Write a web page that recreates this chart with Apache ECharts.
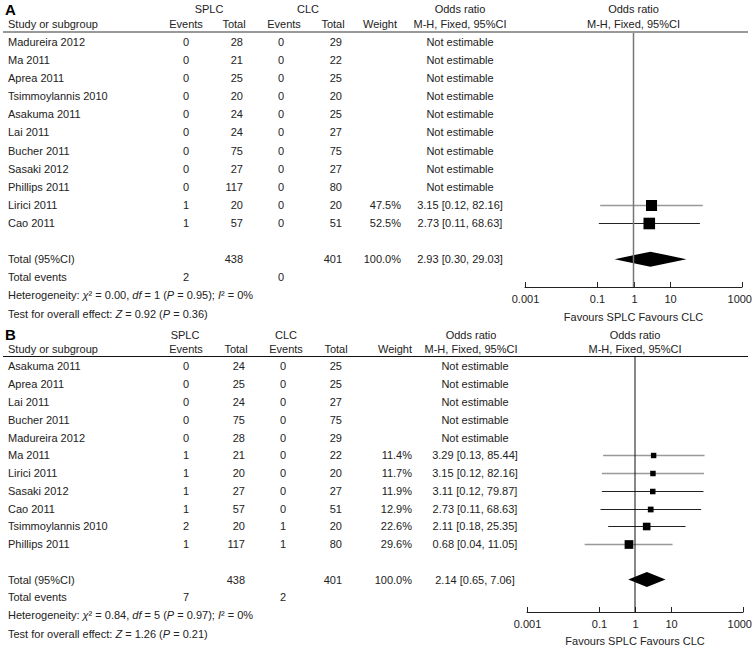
<!DOCTYPE html>
<html><head><meta charset="utf-8">
<script src="https://cdn.jsdelivr.net/npm/echarts@6/dist/echarts.min.js"></script>
<style>html,body{margin:0;padding:0;background:#fff}#c{width:753px;height:650px}</style>
</head><body><div id="c"></div>
<script>
// ---------------- DATA ----------------
// Panel A
const studiesA = ['Madureira 2012','Ma 2011','Aprea 2011','Tsimmoylannis 2010','Asakuma 2011','Lai 2011','Bucher 2011','Sasaki 2012','Phillips 2011','Lirici 2011','Cao 2011'];
const splcEventsA = [0,0,0,0,0,0,0,0,0,1,1];
const splcTotalA  = [28,21,25,20,24,24,75,27,117,20,57];
const clcEventsA  = [0,0,0,0,0,0,0,0,0,0,0];
const clcTotalA   = [29,22,25,20,25,27,75,27,80,20,51];
const weightA     = [null,null,null,null,null,null,null,null,null,47.5,52.5];
const orA         = [null,null,null,null,null,null,null,null,null,3.15,2.73];
const loA         = [null,null,null,null,null,null,null,null,null,0.12,0.11];
const hiA         = [null,null,null,null,null,null,null,null,null,82.16,68.63];
const totalParticipantsA = [438, 401];
const totalEventsA = [2, 0];
const pooledA = [2.93, 0.30, 29.03];
const pooledWeightA = 100.0;
const heterogeneityA = ['0.00', '1', '0.95', '0%'];
const overallA = ['0.92', '0.36'];

// Panel B
const studiesB = ['Asakuma 2011','Aprea 2011','Lai 2011','Bucher 2011','Madureira 2012','Ma 2011','Lirici 2011','Sasaki 2012','Cao 2011','Tsimmoylannis 2010','Phillips 2011'];
const splcEventsB = [0,0,0,0,0,1,1,1,1,2,1];
const splcTotalB  = [24,25,24,75,28,21,20,27,57,20,117];
const clcEventsB  = [0,0,0,0,0,0,0,0,0,1,1];
const clcTotalB   = [25,25,27,75,29,22,20,27,51,20,80];
const weightB     = [null,null,null,null,null,11.4,11.7,11.9,12.9,22.6,29.6];
const orB         = [null,null,null,null,null,3.29,3.15,3.11,2.73,2.11,0.68];
const loB         = [null,null,null,null,null,0.13,0.12,0.12,0.11,0.18,0.04];
const hiB         = [null,null,null,null,null,85.44,82.16,79.87,68.63,25.35,11.05];
const totalParticipantsB = [438, 401];
const totalEventsB = [7, 2];
const pooledB = [2.14, 0.65, 7.06];
const pooledWeightB = 100.0;
const heterogeneityB = ['0.84', '5', '0.97', '0%'];
const overallB = ['1.26', '0.21'];

// Axis
const tickValues = [0.001, 0.1, 1, 10, 1000];
const tickLabels = ['0.001', '0.1', '1', '10', '1000'];
const axisTitle = 'Favours SPLC Favours CLC';
const nullEffect = 1;

// ---------------- STYLE / LAYOUT ----------------
const FONT = 'Liberation Sans';
const FS = 11;
const TXT = '#222';
const fontStr = FS + 'px "' + FONT + '"';
const W = 753;

const panels = [
  {
    label: 'A', studies: studiesA, e1: splcEventsA, t1: splcTotalA, e2: clcEventsA, t2: clcTotalA,
    w: weightA, or: orA, lo: loA, hi: hiA, tp: totalParticipantsA, te: totalEventsA,
    pooled: pooledA, pw: pooledWeightA, het: heterogeneityA, ov: overallA,
    grid: {left: 525, top: 33, width: 217, height: 254}, yMin: -0.497, yMax: 13.54,
    col: {study: 8, ev1: 186, tot1: 243, ev2: 281, tot2: 342, wt: 401, or: 460,
          hSplc: 209, hClc: 308, hTot1: 234, hTot2: 333, hWt: 380, hOr: 460},
    hdrLine: {stroke: '#999', lineWidth: 2}, vLine: {color: '#777', width: 1.5},
    grayCI: [9], nameGap: 24
  },
  {
    label: 'B', studies: studiesB, e1: splcEventsB, t1: splcTotalB, e2: clcEventsB, t2: clcTotalB,
    w: weightB, or: orB, lo: loB, hi: hiB, tp: totalParticipantsB, te: totalEventsB,
    pooled: pooledB, pw: pooledWeightB, het: heterogeneityB, ov: overallB,
    grid: {left: 527, top: 357, width: 216, height: 255}, yMin: -0.535, yMax: 13.83,
    col: {study: 8, ev1: 186, tot1: 245, ev2: 283, tot2: 342, wt: 412, or: 475,
          hSplc: 185, hClc: 286, hTot1: 236, hTot2: 336, hWt: 395, hOr: 471},
    hdrLine: {stroke: '#111', lineWidth: 1}, vLine: {color: '#111', width: 1},
    grayCI: [5, 6, 10], nameGap: 23
  }
];

const chart = echarts.init(document.getElementById('c'), null, {renderer: 'svg'});

const grids = [], xAxes = [], yAxes = [], series = [];
panels.forEach((p, k) => {
  grids.push(Object.assign({containLabel: false}, p.grid));
  xAxes.push({
    type: 'log', logBase: 10, gridIndex: k, min: 0.001, max: 1000, position: 'bottom',
    axisLine: {show: true, onZero: false, lineStyle: {color: '#222', width: 1}},
    axisTick: {show: false}, axisLabel: {show: false}, splitLine: {show: false},
    minorTick: {show: false}, minorSplitLine: {show: false},
    name: axisTitle, nameLocation: 'middle', nameGap: p.nameGap,
    nameTextStyle: {fontFamily: FONT, fontSize: FS, color: TXT, verticalAlign: 'top'}
  });
  yAxes.push({type: 'value', gridIndex: k, inverse: true, min: p.yMin, max: p.yMax, show: false});

  // null-effect vertical line
  series.push({
    type: 'line', xAxisIndex: k, yAxisIndex: k, data: [[nullEffect, p.yMin], [nullEffect, p.yMax]],
    symbol: 'none', lineStyle: {color: p.vLine.color, width: p.vLine.width}, silent: true, animation: false
  });

  // studies: CI line + square
  const studyData = [];
  p.or.forEach((v, i) => { if (v != null) studyData.push([v, i, p.lo[i], p.hi[i], p.w[i]]); });
  series.push({
    type: 'custom', xAxisIndex: k, yAxisIndex: k, data: studyData, animation: false, silent: true,
    encode: {x: 0, y: 1},
    renderItem: (params, api) => {
      const i = api.value(1);
      const c = api.coord([api.value(0), i]);
      const a = api.coord([api.value(2), i]);
      const b = api.coord([api.value(3), i]);
      const s = 1.6 * Math.sqrt(api.value(4));
      const y = Math.round(c[1]) + 0.5;
      const gray = p.grayCI.indexOf(i) >= 0;
      return {type: 'group', children: [
        {type: 'line', shape: {x1: a[0], y1: y, x2: b[0], y2: y},
         style: {stroke: gray ? '#999' : '#222', lineWidth: gray ? 1.5 : 1}},
        {type: 'rect', shape: {x: c[0] - s / 2, y: y - s / 2, width: s, height: s}, style: {fill: '#000'}}
      ]};
    }
  });

  // pooled diamond
  const totalRow = p.studies.length + 1;
  series.push({
    type: 'custom', xAxisIndex: k, yAxisIndex: k, animation: false, silent: true,
    data: [[p.pooled[0], totalRow, p.pooled[1], p.pooled[2]]], encode: {x: 0, y: 1},
    renderItem: (params, api) => {
      const r = api.value(1);
      const c = api.coord([api.value(0), r]);
      const a = api.coord([api.value(2), r]);
      const b = api.coord([api.value(3), r]);
      const h = 7.5;
      return {type: 'polygon', shape: {points: [[a[0], c[1]], [c[0], c[1] - h], [b[0], c[1]], [c[0], c[1] + h]]},
              style: {fill: '#000'}};
    }
  });

  // axis ticks + labels
  series.push({
    type: 'custom', xAxisIndex: k, yAxisIndex: k, animation: false, silent: true,
    data: tickValues.map(v => [v, p.yMax]), encode: {x: 0, y: 1}, clip: false,
    renderItem: (params, api) => {
      const q = api.coord([api.value(0), api.value(1)]);
      const x = Math.round(q[0]) + 0.5;
      const label = tickLabels[params.dataIndex];
      const half = echarts.format.getTextRect ? echarts.format.getTextRect(label, fontStr).width / 2 : 12;
      const overflow = x + half > W - 1;
      return {type: 'group', children: [
        {type: 'line', shape: {x1: x, y1: q[1] - 5, x2: x, y2: q[1]}, style: {stroke: '#222', lineWidth: 1}},
        {type: 'text', x: overflow ? W - 1 : x, y: q[1] + 6, style: {text: label, font: fontStr, fill: TXT,
          align: overflow ? 'right' : 'center', verticalAlign: 'top'}}
      ]};
    }
  });
});

chart.setOption({animation: false, grid: grids, xAxis: xAxes, yAxis: yAxes, series: series});

// ---------------- TABLE TEXT ----------------
const graphics = [];
function txt(x, y, text, align, extra) {
  graphics.push({type: 'text', x: x, y: y, silent: true,
    style: Object.assign({text: String(text), font: fontStr, fill: TXT, align: align || 'left', verticalAlign: 'middle'}, extra || {})});
}
function rich(x, y, parts) {
  let s = '';
  parts.forEach(pt => { s += '{' + (pt[1] ? 'i' : 'n') + '|' + pt[0] + '}'; });
  graphics.push({type: 'text', x: x, y: y, silent: true,
    style: {text: s, verticalAlign: 'middle', align: 'left',
      rich: {n: {fontFamily: FONT, fontSize: FS, fill: TXT, color: TXT},
             i: {fontFamily: FONT, fontSize: FS, fontStyle: 'italic', fill: TXT, color: TXT}}}});
}

panels.forEach((p, k) => {
  const Y = i => chart.convertToPixel({yAxisIndex: k}, i);
  const c = p.col;
  const plotC = p.grid.left + p.grid.width / 2;
  // headers
  txt(5, Y(-1.8), p.label, 'left', {font: 'bold 15px "Liberation Sans"', fill: '#000'});
  txt(c.hSplc, Y(-1.8), 'SPLC', 'center');
  txt(c.hClc, Y(-1.8), 'CLC', 'center');
  txt(c.hOr, Y(-1.8), 'Odds ratio', 'center');
  txt(plotC, Y(-1.8), 'Odds ratio', 'center');
  txt(c.study, Y(-1), 'Study or subgroup');
  txt(c.ev1, Y(-1), 'Events', 'center');
  txt(c.hTot1, Y(-1), 'Total', 'center');
  txt(c.ev2 + 3, Y(-1), 'Events', 'center');
  txt(c.hTot2, Y(-1), 'Total', 'center');
  txt(c.hWt, Y(-1), 'Weight', 'center');
  txt(c.hOr, Y(-1), 'M-H, Fixed, 95%CI', 'center');
  txt(plotC, Y(-1), 'M-H, Fixed, 95%CI', 'center');
  const ly = Math.round(Y(p.yMin)) - (p.hdrLine.lineWidth === 2 ? 1 : 0.5);
  graphics.push({type: 'line', silent: true, shape: {x1: 3, y1: ly, x2: 748, y2: ly}, style: p.hdrLine});
  // study rows
  p.studies.forEach((s, i) => {
    const y = Y(i);
    txt(c.study, y, s);
    txt(c.ev1, y, p.e1[i], 'center');
    txt(c.tot1, y, p.t1[i], 'right');
    txt(c.ev2, y, p.e2[i], 'center');
    txt(c.tot2, y, p.t2[i], 'right');
    if (p.or[i] == null) {
      txt(c.or, y, 'Not estimable', 'center');
    } else {
      txt(c.wt, y, p.w[i].toFixed(1) + '%', 'right');
      txt(c.or, y, p.or[i].toFixed(2) + ' [' + p.lo[i].toFixed(2) + ', ' + p.hi[i].toFixed(2) + ']', 'center');
    }
  });
  const n = p.studies.length;
  const yt = Y(n + 1);
  txt(c.study, yt, 'Total (95%CI)');
  txt(c.tot1, yt, p.tp[0], 'right');
  txt(c.tot2, yt, p.tp[1], 'right');
  txt(c.wt, yt, p.pw.toFixed(1) + '%', 'right');
  txt(c.or, yt, p.pooled[0].toFixed(2) + ' [' + p.pooled[1].toFixed(2) + ', ' + p.pooled[2].toFixed(2) + ']', 'center');
  const ye = Y(n + 2);
  txt(c.study, ye, 'Total events');
  txt(c.ev1, ye, p.te[0], 'center');
  txt(c.ev2, ye, p.te[1], 'center');
  rich(c.study, Y(n + 3), [['Heterogeneity: ', 0], ['χ', 1], ['² = ' + p.het[0] + ', ', 0], ['df', 1],
    [' = ' + p.het[1] + ' (', 0], ['P', 1], [' = ' + p.het[2] + '); ', 0], ['I', 1], ['² = ' + p.het[3], 0]]);
  rich(c.study, Y(n + 4.05), [['Test for overall effect: ', 0], ['Z', 1], [' = ' + p.ov[0] + ' (', 0], ['P', 1],
    [' = ' + p.ov[1] + ')', 0]]);
});

chart.setOption({graphic: graphics});
</script>
</body></html>
